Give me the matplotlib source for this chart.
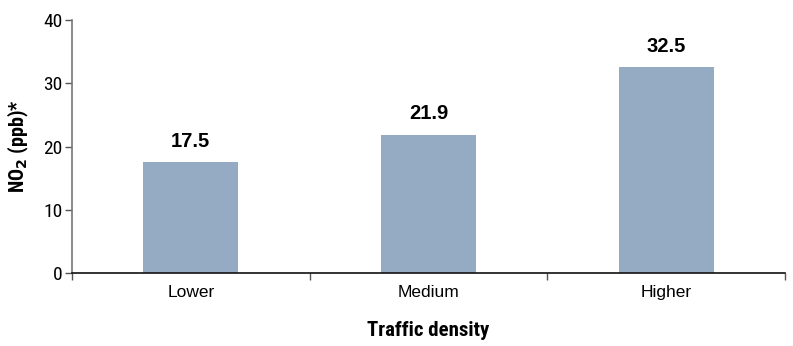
import matplotlib
matplotlib.use("Agg")
import matplotlib.pyplot as plt

categories = ["Lower", "Medium", "Higher"]
no2_ppb = [17.5, 21.9, 32.5]
y_ticks = [0, 10, 20, 30, 40]

bar_color = "#95abc4"
narrow = ["Liberation Sans Narrow", "Roboto Condensed", "DejaVu Sans"]
regular = ["Liberation Sans", "DejaVu Sans"]

plt.rcParams["mathtext.fontset"] = "custom"
plt.rcParams["mathtext.rm"] = "Liberation Sans Narrow:bold"
plt.rcParams["mathtext.bf"] = "Liberation Sans Narrow:bold"

fig = plt.figure(figsize=(7.93, 3.46), dpi=100)
ax = fig.add_axes([0.0908, 0.211, 0.8992, 0.731])

x = list(range(len(categories)))
ax.bar(x, no2_ppb, width=0.40, color=bar_color, zorder=2)

for xi, v in zip(x, no2_ppb):
    ax.text(xi, v + 1.8, f"{v:.1f}", ha="center", va="bottom",
            fontsize=14.5, fontweight="bold", family=regular)

ax.set_xlim(-0.5, len(categories) - 0.5)
ax.set_ylim(0, 40)

ax.set_yticks(y_ticks)
ax.set_yticklabels([str(t) for t in y_ticks], family=narrow, fontsize=14)
ax.tick_params(axis="y", direction="out", length=5, width=1, color="#555555", pad=2)

ax.set_xticks(x)
ax.set_xticklabels(categories, family=regular, fontsize=12.5)
ax.tick_params(axis="x", which="major", length=0, pad=9)
ax.set_xticks([i - 0.5 for i in range(len(categories) + 1)], minor=True)
ax.tick_params(axis="x", which="minor", direction="out", length=5, width=1, color="#555555")

for side in ["top", "right"]:
    ax.spines[side].set_visible(False)
ax.spines["left"].set_color("#777777")
ax.spines["left"].set_linewidth(1.2)
ax.spines["bottom"].set_color("#111111")
ax.spines["bottom"].set_linewidth(1.2)

ax.set_xlabel("Traffic density", family=narrow, fontweight="bold", fontsize=15, labelpad=15)
ax.set_ylabel("NO$_2$ (ppb)*", family=narrow, fontweight="bold", fontsize=14.5, labelpad=9)

fig.savefig("out.png", dpi=100)
